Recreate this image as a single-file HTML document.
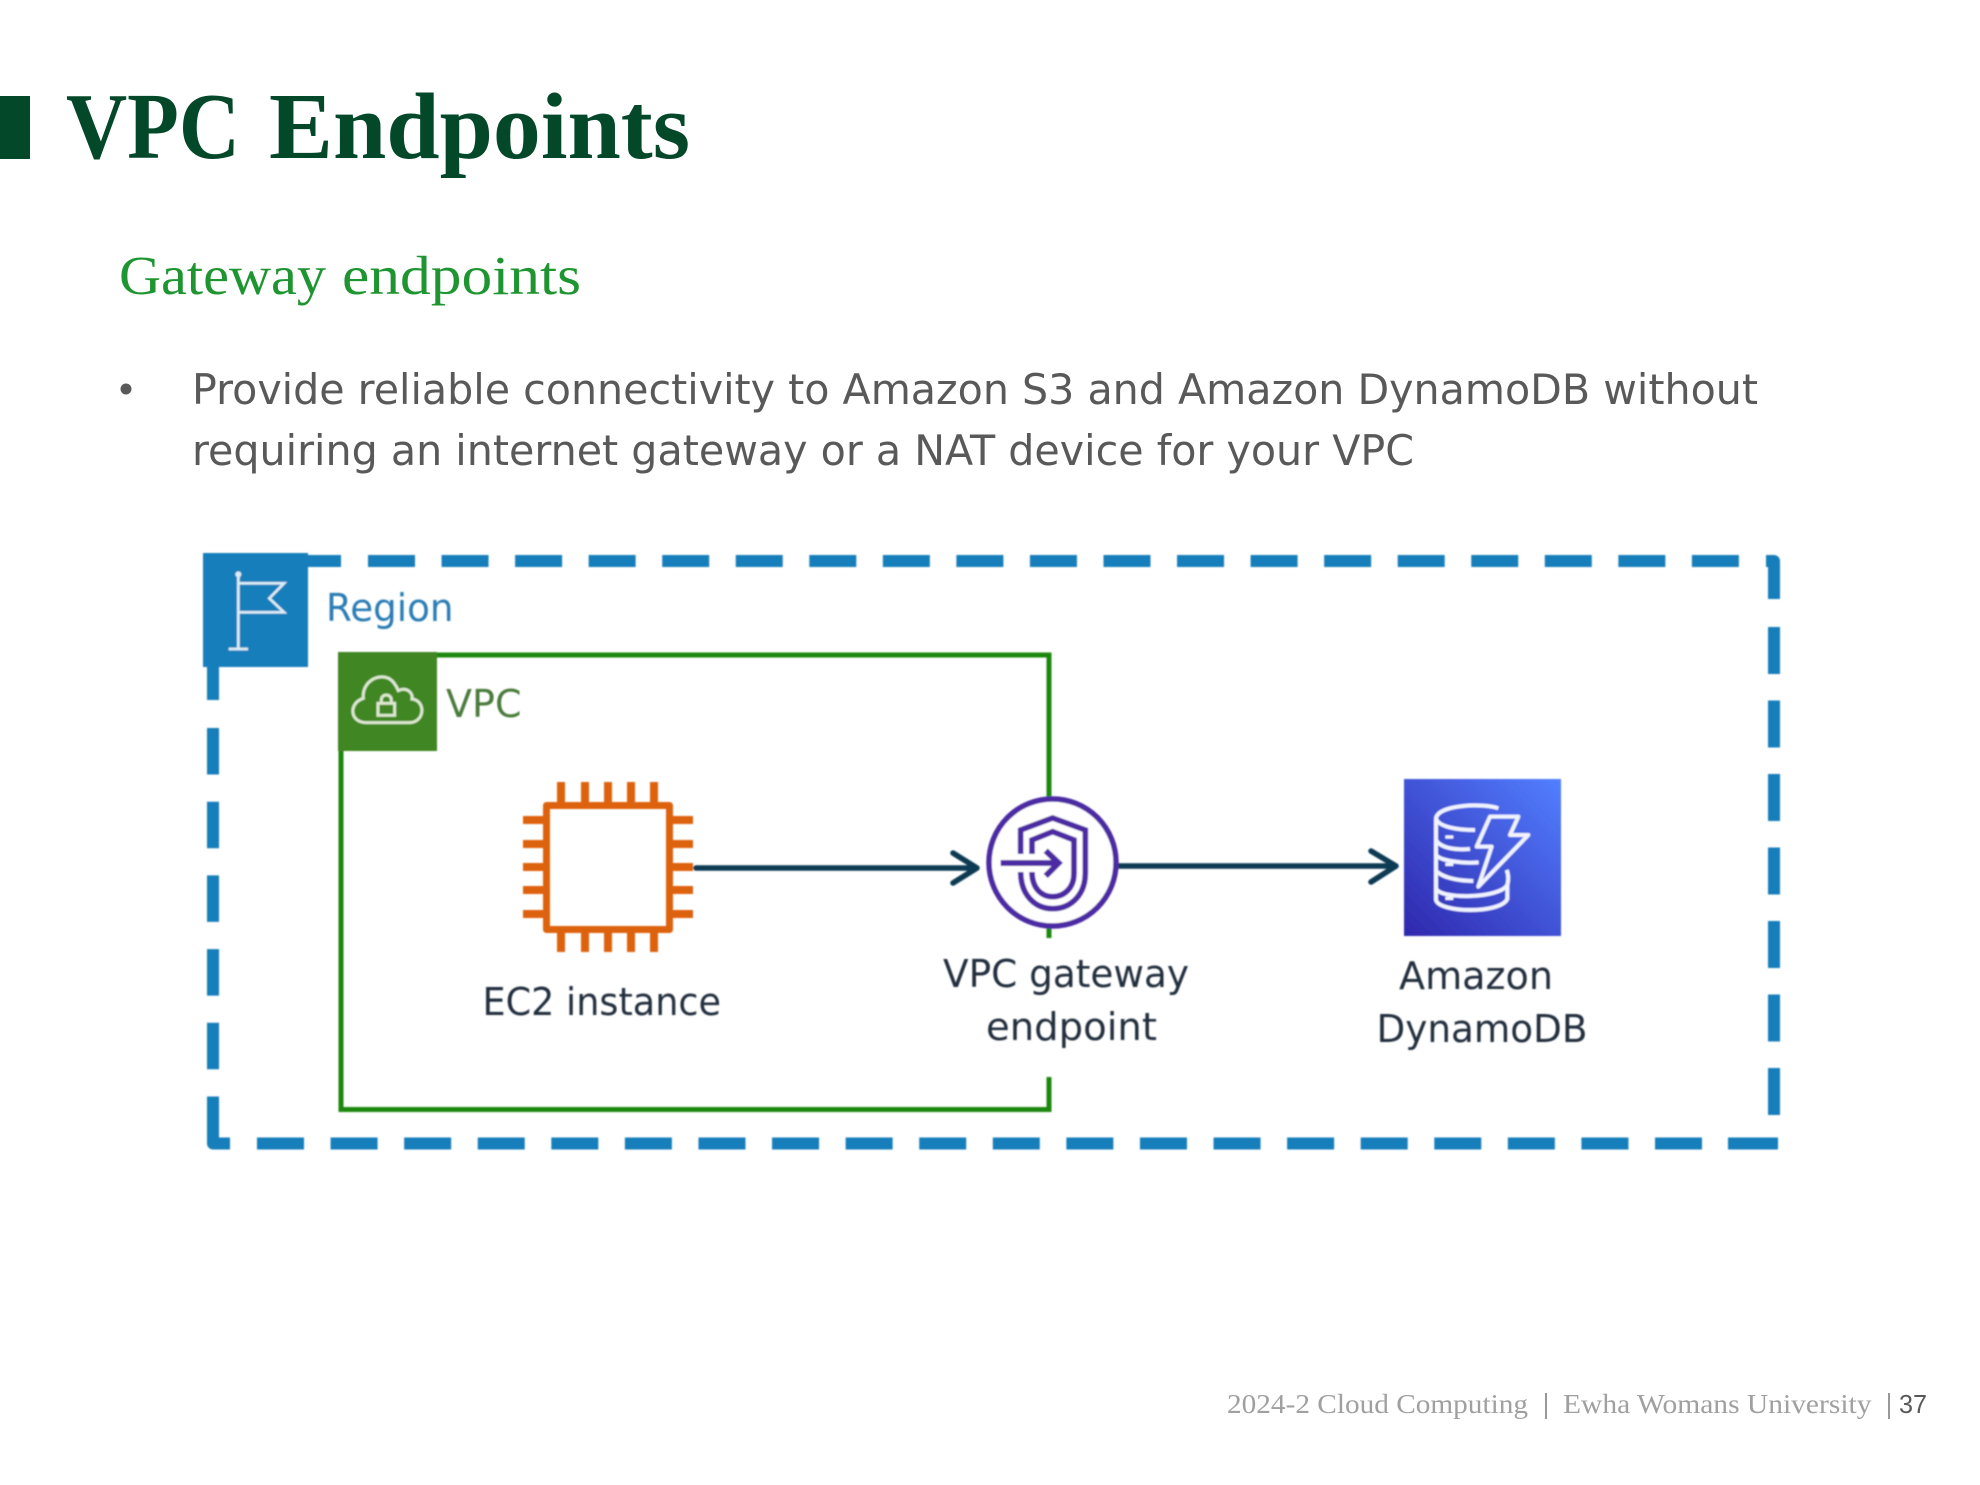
<!DOCTYPE html>
<html lang="en">
<head>
<meta charset="utf-8">
<title>VPC Endpoints</title>
<style>
html,body{margin:0;padding:0;background:#fff;width:1980px;height:1485px;overflow:hidden}
svg{display:block}
.s{font-family:"DejaVu Sans","Liberation Sans",sans-serif}
.r{font-family:"Liberation Serif",serif}
</style>
</head>
<body>
<svg xmlns="http://www.w3.org/2000/svg" width="1980" height="1485" viewBox="0 0 1980 1485">
<defs>
<filter id="b" x="-5%" y="-5%" width="110%" height="110%"><feGaussianBlur stdDeviation="0.8"/></filter>
<linearGradient id="dg" x1="0" y1="1" x2="1" y2="0"><stop offset="0" stop-color="#2E27AD"/><stop offset="1" stop-color="#527FFF"/></linearGradient>
</defs>
<rect width="1980" height="1485" fill="#fff"/>

<rect x="0" y="96" width="30" height="63" fill="#04482A"/>
<text class="r" x="66" y="158" font-size="94" font-weight="700" fill="#04482A" textLength="174" lengthAdjust="spacingAndGlyphs">VPC</text>
<text class="r" x="269" y="158" font-size="94" font-weight="700" fill="#04482A" textLength="421" lengthAdjust="spacingAndGlyphs">Endpoints</text>
<text class="r" x="119" y="294" font-size="55" fill="#1E9530" textLength="207" lengthAdjust="spacingAndGlyphs">Gateway</text>
<text class="r" x="342" y="294" font-size="55" fill="#1E9530" textLength="239" lengthAdjust="spacingAndGlyphs">endpoints</text>

<circle cx="126" cy="389" r="5.5" fill="#595959"/>
<text class="s" x="192" y="404" font-size="42" fill="#595959" textLength="1566" lengthAdjust="spacingAndGlyphs">Provide reliable connectivity to Amazon S3 and Amazon DynamoDB without</text>
<text class="s" x="192" y="465" font-size="42" fill="#595959" textLength="1222" lengthAdjust="spacingAndGlyphs">requiring an internet gateway or a NAT device for your VPC</text>

<g filter="url(#b)">
  <!-- Region border -->
  <g fill="none" stroke="#147EBA">
    <line x1="308" y1="561" x2="341" y2="561" stroke-width="12"/>
    <line x1="368" y1="561" x2="1739" y2="561" stroke-width="12" stroke-dasharray="47 26.55"/>
    <path d="M1766 561 H1774 V599" stroke-width="12" stroke-linejoin="round"/>
    <line x1="1774" y1="627" x2="1774" y2="1116" stroke-width="12" stroke-dasharray="47 26.5"/>
    <line x1="213" y1="667" x2="213" y2="700" stroke-width="12"/>
    <line x1="213" y1="728" x2="213" y2="1143" stroke-width="12" stroke-dasharray="46.5 27.2"/>
    <path d="M213 1097 V1143.500 H230" stroke-width="12" stroke-linejoin="round"/>
    <line x1="257" y1="1143.500" x2="1702" y2="1143.500" stroke-width="12" stroke-dasharray="47 26.58"/>
    <line x1="1728" y1="1143.500" x2="1778" y2="1143.500" stroke-width="12"/>
  </g>
  <rect x="203" y="553" width="105" height="114" fill="#147EBA"/>
  <g transform="translate(180 530) scale(0.3333)" fill="none" stroke="#DCEDF6" stroke-width="8">
    <path d="M175 135 V355 M146 357 H204"/>
    <path d="M175 160 H312 L268 205 L312 247 H175"/>
    <circle cx="175" cy="133" r="9" fill="#DCEDF6" stroke="none"/>
  </g>
  <text class="s" x="326" y="621" font-size="38" fill="#2A7DB5" textLength="127.500" lengthAdjust="spacingAndGlyphs">Region</text>

  <!-- VPC border -->
  <g fill="none" stroke="#1E870F" stroke-width="5">
    <path d="M437 655 H1049 V810"/>
    <path d="M341 751 V1109.500 H1049 V1077"/>
    <path d="M1049 920 V938"/>
  </g>
  <rect x="338" y="652" width="99" height="99" fill="#3F8624"/>
  <g transform="translate(180 530) scale(0.3333)" fill="none" stroke="#DCE9CF" stroke-width="9">
    <path d="M558 578 C510 578 504 520 550 505 C545 458 592 428 628 446 C642 454 650 470 655 482 C680 470 700 488 696 507 C738 512 735 576 690 578 Z"/>
    <rect x="594" y="520" width="50" height="36"/>
    <path d="M604 518 V510 C604 490 634 490 634 510 V518"/>
  </g>
  <text class="s" x="446" y="717" font-size="38" fill="#4A7A3A" textLength="75.500" lengthAdjust="spacingAndGlyphs">VPC</text>

  <!-- EC2 -->
  <g fill="none" stroke="#DD6209">
    <rect x="546.500" y="805.500" width="123" height="124" stroke-width="7" stroke-linejoin="round"/>
    <path stroke-width="8" d="M561 782 V802 M585 782 V802 M608 782 V802 M631 782 V802 M654 782 V802 M561 933 V952 M585 933 V952 M608 933 V952 M631 933 V952 M654 933 V952 M523 820 H543 M523 844 H543 M523 867 H543 M523 890 H543 M523 914 H543 M673 820 H693 M673 844 H693 M673 867 H693 M673 890 H693 M673 914 H693"/>
  </g>
  <text class="s" x="482.500" y="1015" font-size="38" fill="#232F3E" textLength="238.500" lengthAdjust="spacingAndGlyphs">EC2 instance</text>

  <!-- Arrows -->
  <g fill="none" stroke="#0B3A52" stroke-width="5.500" stroke-linecap="round" stroke-linejoin="round">
    <path d="M696 868 H976 M953 853 L977 868 L953 883"/>
    <path d="M1118 866 H1395 M1371 851 L1396 866 L1371 882"/>
  </g>

  <!-- Gateway endpoint -->
  <circle cx="1052.500" cy="862.500" r="63.500" fill="#fff" stroke="#4B2AA3" stroke-width="5.500"/>
  <g transform="translate(980 790) scale(0.3333)" fill="none" stroke="#4B2AA3" stroke-width="17">
    <path d="M122 192 V120 L218 84 L316 120 V250 C316 315 272 356 218 356 C165 356 122 315 122 246"/>
    <path d="M156 192 V150 L218 125 L282 150 V250 C282 292 255 320 218 320 C182 320 156 292 156 246"/>
    <path d="M62 219 H235" stroke-width="18"/>
    <path d="M197 182 L236 219 L197 258" stroke-width="18"/>
  </g>
  <text class="s" x="943" y="987" font-size="38" fill="#232F3E" textLength="246" lengthAdjust="spacingAndGlyphs">VPC gateway</text>
  <text class="s" x="986" y="1040" font-size="38" fill="#232F3E" textLength="171" lengthAdjust="spacingAndGlyphs">endpoint</text>

  <!-- DynamoDB -->
  <rect x="1404" y="779" width="157" height="157" fill="url(#dg)"/>
  <g transform="translate(1400 775) scale(0.3333)" fill="none" stroke="#F0F3FF" stroke-width="12" stroke-linejoin="round">
    <path d="M295 100 C250 84 114 88 108 130 C114 155 170 165 225 165"/>
    <path d="M108 130 V375 C118 414 302 417 322 372 V330 C327 310 324 295 320 285"/>
    <path d="M108 195 C122 220 170 226 210 222"/>
    <path d="M108 240 C122 258 190 266 236 262"/>
    <path d="M108 288 C132 310 180 318 220 318"/>
    <path d="M108 340 C122 375 300 370 322 330"/>
    <path d="M270 125 H355 L330 180 H385 L235 335 L275 215 H230 Z"/>
    <path d="M136 186 H160 M136 268 H160 M136 370 H160" stroke-width="10"/>
  </g>
  <text class="s" x="1399" y="989" font-size="38" fill="#232F3E" textLength="154" lengthAdjust="spacingAndGlyphs">Amazon</text>
  <text class="s" x="1376.500" y="1042" font-size="38" fill="#232F3E" textLength="211" lengthAdjust="spacingAndGlyphs">DynamoDB</text>
</g>

<!-- Footer -->
<text class="r" x="1227" y="1413" font-size="27" fill="#A0A0A0" textLength="301" lengthAdjust="spacingAndGlyphs">2024-2 Cloud Computing</text>
<rect x="1545" y="1393" width="2" height="26" fill="#999999"/>
<text class="r" x="1563" y="1413" font-size="27" fill="#A0A0A0" textLength="308.500" lengthAdjust="spacingAndGlyphs">Ewha Womans University</text>
<rect x="1888" y="1393" width="2" height="26" fill="#999999"/>
<text x="1899" y="1413" font-family="'Liberation Sans',sans-serif" font-size="26" fill="#595959" textLength="28" lengthAdjust="spacingAndGlyphs">37</text>
</svg>
</body>
</html>
